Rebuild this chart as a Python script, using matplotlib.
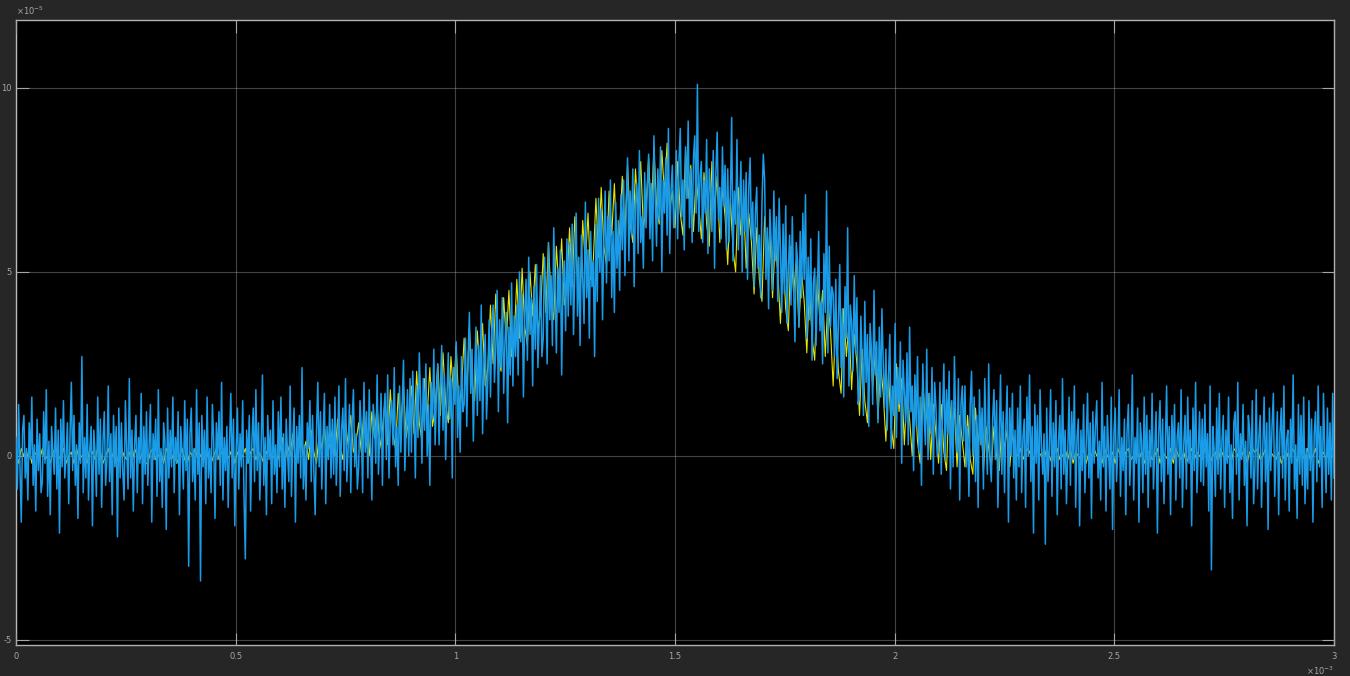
"""
Scope-style trace: two noisy signals (yellow reference, blue measurement)
on a dark MATLAB-like axes.
"""

import numpy as np
import matplotlib
matplotlib.use("Agg")
import matplotlib.pyplot as plt
from matplotlib.ticker import FuncFormatter

plt.rcParams.update({
    "font.family"      : "DejaVu Sans",
    "axes.unicode_minus": False,
})

# sample step of each trace, in units of 1e-3 s
dt_blue = 0.003
dt_yellow = 0.006

# trace values in units of 1e-6
blue = [
    5, -9, 14, -3, -18, 7, 11, -6, 2, -12, 9, -1, 16, -8, 3, -15, 10, -4, 6, -10,
    -7, 12, -2, 18, -11, 4, -16, 8, 1, -5, 13, -9, 7, -21, 10, -3, 15, -6, 0, 9,
    -13, 6, 20, -4, 11, -8, 3, -17, 9, -2, 27, -10, 5, -6, 14, -12, 2, 8, -19, 7,
    1, -11, 16, -5, 10, -14, 4, 12, -8, -1, 19, -7, 6, -16, 11, -3, 8, -22, 13, -6,
    9, -4, -12, 15, 2, -9, 21, -6, 7, -15, 3, 11, -10, 5, -2, 17, -13, 8, -5, 12,
    -8, 3, 14, -18, 6, -1, 10, -11, 18, -7, 2, -14, 9, 4, -20, 13, -6, 7, -3, 16,
    -10, 5, -2, 12, -16, 8, 1, -9, 15, -4, 10, -30, 6, 13, -7, 2, -12, 18, -5, 9,
    -34, 11, -3, 7, -13, 16, -6, 2, -10, 14, 4, -17, 9, -1, 12, -8, 20, -12, 5, -4,
    8, -14, 3, 17, -6, 10, -19, 1, 13, -9, 6, -3, 15, -11, -28, 7, -2, 11, -15, 4,
    13, -7, 18, -4, 9, -12, 2, 22, -8, 5, -16, 11, -1, 7, -13, 15, -5, 3, -10, 12,
    -3, 16, -9, 6, -14, 10, 1, -7, 19, -11, 4, 13, -18, 8, -2, 11, -6, 24, -9, 3,
    -12, 9, 2, 15, -7, 11, -4, -16, 7, 20, -3, 12, -9, 5, 17, -13, 8, -1, 14, -6,
    10, -5, 16, -8, 3, 19, -11, 7, 13, -4, 21, -7, 2, 14, -10, 9, 18, -3, 6, -9,
    -3, 15, 7, -10, 20, 1, 12, -6, 18, 4, -12, 14, 9, -2, 22, -5, 6, 17, -8, 11,
    17, -1, 22, -6, 10, 15, 3, 24, -3, 8, -8, 19, 1, 13, 26, -4, 7, 18, 0, 21,
    1, 23, 12, -6, 19, 5, 28, 15, -2, 21, 7, 25, 0, 14, -8, 20, 10, 29, 3, 17,
    25, 3, 18, 30, 7, 22, -1, 16, 28, 10, 21, -6, 24, 14, 31, 5, 19, 1, 27, 12,
    14, 32, 8, 26, 39, 17, 29, 4, 23, 35, 11, 30, 15, 41, 6, 25, 33, 10, 21, 37,
    16, 34, 41, 20, 29, 45, 12, 37, 24, 43, 17, 31, 39, 9, 35, 22, 47, 19, 38, 27,
    41, 22, 50, 31, 44, 16, 38, 48, 26, 54, 33, 43, 19, 46, 29, 52, 24, 37, 49, 27,
    32, 54, 43, 25, 58, 37, 49, 30, 62, 46, 28, 51, 39, 56, 22, 47, 53, 34, 59, 38,
    58, 41, 63, 33, 51, 66, 38, 54, 30, 60, 48, 36, 69, 43, 56, 32, 61, 46, 53, 27,
    63, 42, 70, 50, 67, 37, 58, 72, 47, 65, 53, 75, 43, 61, 39, 69, 51, 64, 45, 71,
    56, 75, 49, 68, 81, 53, 72, 60, 78, 46, 69, 74, 55, 83, 58, 65, 51, 77, 62, 73,
    82, 59, 74, 53, 87, 70, 57, 78, 64, 84, 50, 75, 66, 81, 60, 89, 55, 72, 79, 62,
    67, 83, 59, 80, 89, 65, 75, 56, 84, 70, 91, 62, 78, 58, 81, 87, 66, 101, 61, 76,
    80, 58, 75, 66, 86, 55, 78, 72, 61, 83, 51, 77, 88, 64, 73, 59, 84, 68, 79, 56,
    78, 58, 70, 92, 53, 72, 63, 86, 56, 67, 80, 50, 75, 61, 77, 48, 73, 81, 59, 69,
    46, 66, 73, 51, 60, 43, 69, 82, 75, 48, 62, 40, 67, 58, 45, 72, 53, 65, 42, 70,
    56, 39, 63, 44, 68, 36, 51, 60, 41, 65, 46, 31, 58, 53, 35, 61, 43, 66, 48, 71,
    32, 54, 37, 59, 26, 47, 51, 30, 44, 61, 34, 42, 25, 55, 39, 72, 28, 57, 35, 46,
    44, 27, 48, 21, 37, 52, 24, 40, 16, 46, 32, 62, 19, 41, 36, 23, 49, 28, 43, 14,
    17, 38, 26, 11, 42, 20, 33, 8, 36, 29, 14, 45, 22, 31, 9, 35, 16, 40, 25, 13,
    29, 7, 22, 33, 2, 19, 11, 36, 5, 24, 14, 31, -2, 26, 17, 9, 28, 3, 35, 12,
    19, -4, 22, 8, 27, 1, 16, -8, 25, 11, 3, 29, -1, 17, 6, 24, -5, 20, 13, 0,
    2, 20, -5, 12, 25, -1, 18, 6, 23, -9, 15, -3, 27, 9, 1, 21, -12, 14, 19, 4,
    19, -3, 8, -11, 14, 23, 0, 16, -7, 11, -14, 18, 3, 13, -9, 21, 6, -5, 25, -1,
    -7, 10, 18, -1, 15, -14, 5, 22, -5, 12, -10, 8, 19, -18, 13, 0, 17, -6, 7, -12,
    13, -3, 19, -10, 5, 10, -14, 16, 0, 22, -7, 8, -21, 14, -2, 11, -12, 18, 3, -5,
    6, -24, 13, -7, 2, 18, -11, 9, -3, 15, -16, 4, 11, -9, 21, -5, 7, -13, 1, 16,
    -8, 12, -1, 19, -14, 5, 10, -19, 7, -4, 14, -10, 3, 17, -6, 9, -17, 12, -2, 8,
    15, -6, 4, -12, 20, -3, 8, -15, 11, 1, -9, 16, -20, 6, 13, -7, 2, 18, -11, 5,
    -4, 10, -16, 7, 14, -8, 1, 22, -12, 5, -2, 13, -18, 9, 4, -10, 16, -5, 11, -14,
    7, -3, 17, -9, 2, 12, -21, 6, 15, -7, 10, -13, 3, 19, -5, 8, -16, 11, -1, 14,
    -12, 5, 9, -6, 18, -14, 3, 11, -9, 16, -2, 7, -19, 13, -4, 20, -10, 1, 12, -7,
    10, -8, 14, -3, 6, -15, 19, -31, 8, 2, -11, 13, -5, 17, -9, 4, 11, -14, 7, -2,
    16, -10, 3, -17, 9, 12, -5, 20, -12, 6, -1, 14, -8, 4, -19, 11, 7, -6, 15, -13,
    -3, 18, -9, 5, 11, -14, 2, 16, -7, 9, -20, 13, -4, 8, 17, -11, 1, 12, -16, 6,
    13, -6, 19, -12, 4, 7, -15, 10, -2, 22, -9, 3, -17, 14, -5, 11, -8, 16, -13, 2,
    -9, 15, -4, 10, -18, 6, 12, -7, 19, -3, 8, -14, 17, 1, -10, 13, -5, 9, -12, 17,
    -6,
]

yellow = [
    1, -2, 2, 0, -1, 2, -2, 1, 0, -1,
    2, -1, 0, -2, 1, 2, -1, 0, 2, -2,
    0, 1, -2, 2, -1, 0, 1, -2, 2, 1,
    -1, 2, 1, -2, 0, 2, -1, 1, -2, 0,
    2, 0, -1, 1, -2, 2, 0, -1, 1, -2,
    -2, 1, 2, -1, 0, 1, -2, 2, 0, -1,
    1, -2, 0, 2, -1, -2, 1, 0, 2, -1,
    0, 2, -1, 1, -2, 0, 2, -1, 1, 2,
    -1, 0, 2, -2, 1, -1, 0, 2, -2, 1,
    2, -1, 1, 0, -2, 1, 2, -1, 0, -2,
    1, 5, -2, 3, 0, 6, -1, 2, 5, 0,
    4, -1, 7, 1, -2, 6, 2, 8, 0, 3,
    7, 0, 10, 2, -1, 9, 3, 11, 1, 4,
    9, 1, 13, 3, 0, 12, 5, 14, 2, 7,
    15, 3, 18, 6, 2, 17, 8, 19, 5, 10,
    19, 6, 23, 9, 4, 21, 11, 24, 8, 13,
    25, 11, 28, 14, 9, 27, 17, 30, 13, 18,
    32, 17, 35, 20, 15, 34, 23, 36, 19, 24,
    41, 25, 44, 28, 23, 43, 31, 45, 27, 32,
    48, 32, 51, 35, 30, 50, 38, 52, 34, 39,
    55, 39, 58, 42, 37, 57, 45, 59, 41, 46,
    62, 46, 65, 49, 44, 64, 52, 66, 48, 53,
    70, 54, 73, 57, 52, 72, 60, 74, 56, 61,
    76, 60, 79, 63, 58, 78, 66, 80, 62, 67,
    81, 65, 84, 68, 63, 83, 71, 85, 67, 72,
    62, 80, 66, 60, 83, 70, 79, 61, 76, 68,
    59, 77, 63, 57, 80, 67, 76, 58, 73, 65,
    52, 70, 56, 50, 73, 60, 69, 51, 66, 58,
    44, 62, 48, 42, 65, 52, 61, 43, 58, 50,
    36, 54, 40, 34, 57, 44, 53, 35, 50, 42,
    28, 46, 32, 26, 49, 36, 45, 27, 42, 34,
    19, 37, 23, 17, 40, 27, 36, 18, 33, 25,
    11, 29, 15, 9, 32, 19, 28, 10, 25, 17,
    4, 22, 8, 2, 25, 12, 21, 3, 18, 10,
    0, 18, 4, -2, 21, 8, 17, -1, 14, 6,
    -2, 14, 1, -4, 17, 5, 13, -3, 11, 4,
    -3, 11, -1, -5, 13, 3, 10, -4, 8, 2,
    -3, 8, 0, -4, 9, 2, 7, -3, 6, 1,
    0, 2, -1, 1, 2, 0, -1, 2, 1, 0,
    -1, 2, 0, -2, 1, 2, -1, 0, 2, -1,
    2, -2, 1, 0, -1, 2, -2, 1, 0, 2,
    0, 1, -2, 2, 0, -1, 1, -2, 2, 0,
    -2, 1, 2, -1, 0, 2, -1, 1, -2, 1,
    1, -1, 0, 2, -2, 1, 0, -1, 2, -2,
    2, 0, -1, 1, -2, 0, 2, -1, 1, 0,
    -1, 2, 1, -2, 0, 1, -2, 2, 0, -1,
    0, -2, 2, 1, -1, 0, 2, -2, 1, 2,
    1, 2, -1, 0, 2, -2, 1, 0, -1, 1,
    -2, 0, 1, -1, 2, 1, -2, 2, 0, -1,
    2, -1, 0, 2, -2, 0, 1, -1, 2, 0,
    0,
]

x_ticks = [0, 0.5, 1, 1.5, 2, 2.5, 3]
y_ticks = [-5, 0, 5, 10]

FIG_BG = "#262626"
AX_BG = "#000000"
FG = "#a6a6a6"


def main():
    # x in units of 1e-3, y in units of 1e-5
    y_b = np.asarray(blue, dtype=float) / 10.0
    y_y = np.asarray(yellow, dtype=float) / 10.0
    x_b = np.arange(len(y_b)) * dt_blue
    x_y = np.arange(len(y_y)) * dt_yellow

    fig = plt.figure(figsize=(13.5, 6.76), dpi=100, facecolor=FIG_BG)
    ax = fig.add_axes([0.01185, 0.0459, 0.9763, 0.9246], facecolor=AX_BG)

    ax.plot(x_y, y_y, color="#e6e600", lw=0.8, zorder=2)
    ax.plot(x_b, y_b, color="#1a9ce8", lw=1.1, zorder=3)

    ax.set_xlim(0, 3)
    ax.set_ylim(-5.14, 11.85)
    ax.set_xticks(x_ticks)
    ax.set_yticks(y_ticks)
    fmt = FuncFormatter(lambda v, _: f"{v:g}")
    ax.xaxis.set_major_formatter(fmt)
    ax.yaxis.set_major_formatter(fmt)

    ax.grid(True, color="#d0d0d0", alpha=0.32, lw=0.8, zorder=4)
    ax.set_axisbelow(False)

    ax.tick_params(axis="both", direction="in", length=9, width=0.8,
                   color=FG, labelcolor=FG, labelsize=6,
                   top=True, right=True)
    ax.tick_params(axis="x", pad=5)
    ax.tick_params(axis="y", pad=3)
    for s in ax.spines.values():
        s.set_color("#b0b0b0")
        s.set_linewidth(1.0)

    # exponent labels, MATLAB style
    ax.text(0.0, 1.004, r"$\times10^{-5}$", transform=ax.transAxes,
            ha="left", va="bottom", fontsize=6, color=FG)
    ax.text(1.0, -0.032, r"$\times10^{-3}$", transform=ax.transAxes,
            ha="right", va="top", fontsize=6, color=FG)

    fig.savefig("out.png", dpi=100, facecolor=fig.get_facecolor())
    plt.close(fig)


if __name__ == "__main__":
    main()
